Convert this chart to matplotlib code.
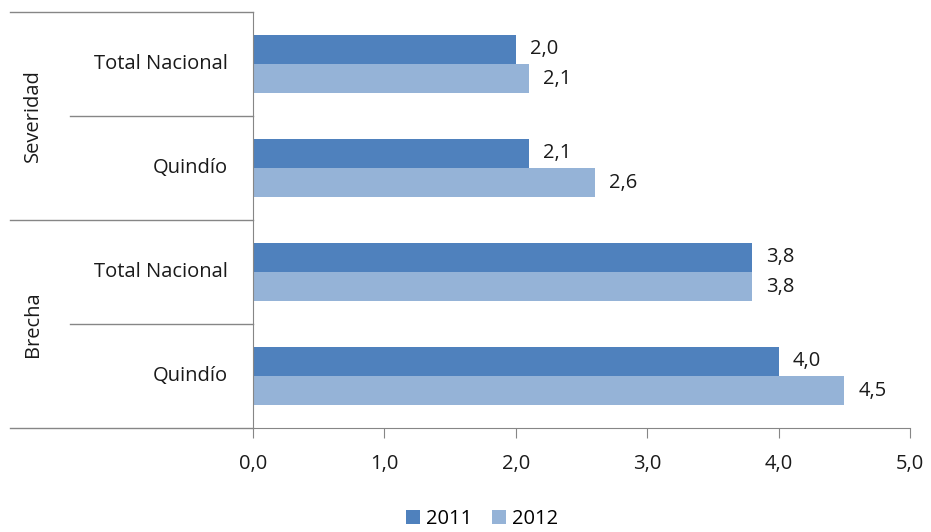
import matplotlib.pyplot as plt
import numpy as np
from matplotlib.lines import Line2D

plt.rcParams['font.family'] = ['Open Sans', 'DejaVu Sans']

grupos = ['Severidad', 'Brecha']
categorias = ['Total Nacional', 'Quindío', 'Total Nacional', 'Quindío']
series = ['2011', '2012']
valores_2011 = [2.0, 2.1, 3.8, 4.0]
valores_2012 = [2.1, 2.6, 3.8, 4.5]
ticks_x = [0, 1, 2, 3, 4, 5]

color_2011 = '#4F81BD'
color_2012 = '#95B3D7'
gris = '#868686'
texto = '#1a1a1a'
fs = 14.5

fig = plt.figure(figsize=(9.31, 5.32), dpi=100)
ax = fig.add_axes([253 / 931, 1 - 428 / 532, 657 / 931, 416 / 532])

y = np.arange(len(categorias))
h = 0.28
b1 = ax.barh(y - h / 2, valores_2011, height=h, color=color_2011, label=series[0])
b2 = ax.barh(y + h / 2, valores_2012, height=h, color=color_2012, label=series[1])

for bars, vals in [(b1, valores_2011), (b2, valores_2012)]:
    for r, v in zip(bars, vals):
        ax.annotate(f'{v:.1f}'.replace('.', ','), (v, r.get_y() + r.get_height() / 2),
                    xytext=(10, 0), textcoords='offset points', va='center', ha='left',
                    fontsize=fs, color=texto)

ax.set_xlim(0, 5)
ax.set_ylim(len(categorias) - 0.5, -0.5)
ax.set_xticks(ticks_x)
ax.set_xticklabels([f'{t:.1f}'.replace('.', ',') for t in ticks_x], fontsize=fs, color=texto)
ax.tick_params(axis='x', direction='out', length=7, color=gris, pad=12)
ax.set_yticks([])
for s in ['top', 'right']:
    ax.spines[s].set_visible(False)
for s in ['left', 'bottom']:
    ax.spines[s].set_color(gris)

# etiquetas de categorias y grupos
tr = ax.get_yaxis_transform()
for yi, c in zip(y, categorias):
    ax.text(-0.038, yi, c, transform=tr, ha='right', va='center', fontsize=fs, color=texto)

x_izq = (10 - 253) / 657
x_med = (70 - 253) / 657
for sep in [-0.5, 1.5, 3.5]:
    ax.add_line(Line2D([x_izq, 0], [sep, sep], transform=tr, color=gris, lw=1, clip_on=False))
for sep in [0.5, 2.5]:
    ax.add_line(Line2D([x_med, 0], [sep, sep], transform=tr, color=gris, lw=1, clip_on=False))

for gi, g in enumerate(grupos):
    ax.text((33 - 253) / 657, gi * 2 + 0.5, g, transform=tr, rotation=90, ha='center', va='center',
            fontsize=fs, color=texto)

fig.legend(handles=[b1, b2], labels=series, loc='center', bbox_to_anchor=(482 / 931, 1 - 519 / 532),
           ncol=2, frameon=False, fontsize=fs, handlelength=0.7, handleheight=0.7,
           handletextpad=0.3, columnspacing=1.0)

fig.savefig('out.png', dpi=100)
